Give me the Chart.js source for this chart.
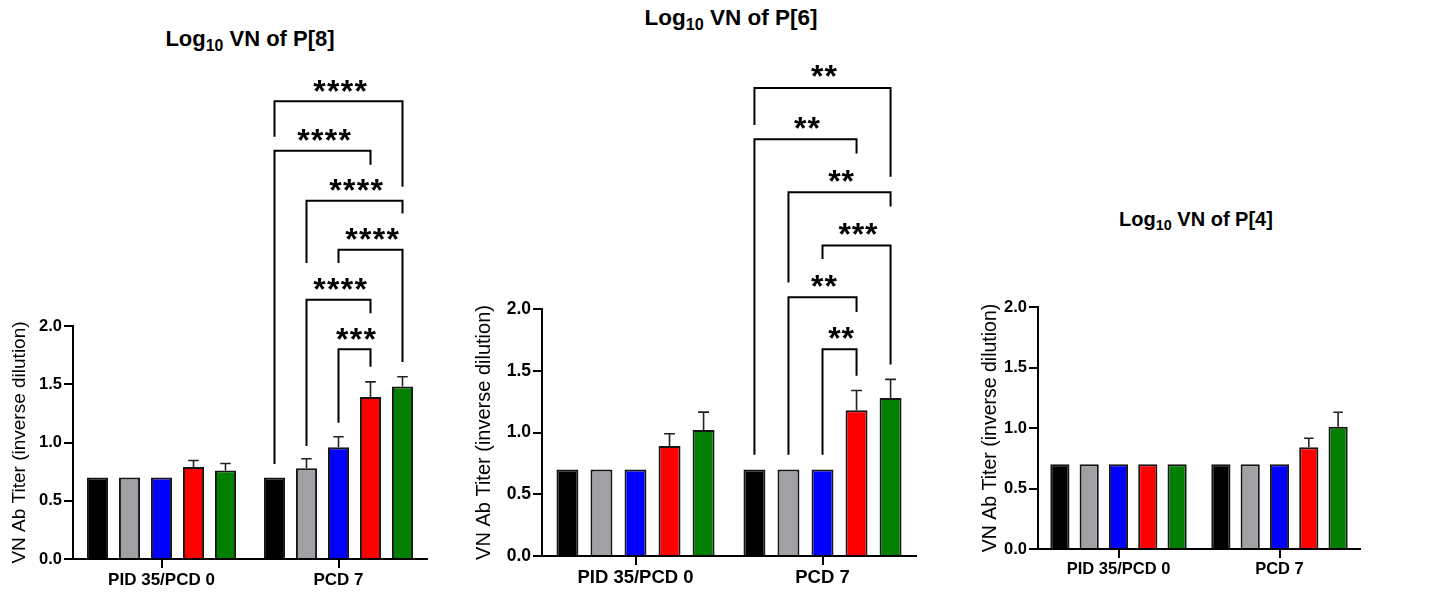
<!DOCTYPE html>
<html><head><meta charset="utf-8">
<script src="https://cdn.jsdelivr.net/npm/chart.js@4.4.0/dist/chart.umd.min.js"></script>
<style>
html,body{margin:0;padding:0;background:#fff;width:1454px;height:597px;overflow:hidden;position:relative;font-family:"Liberation Sans",Arial,sans-serif;}
canvas{position:absolute;top:0;}
.ttl{position:absolute;font-weight:bold;white-space:nowrap;color:#000;transform:translateX(-50%);line-height:1;}
.ttl sub{font-size:0.72em;vertical-align:baseline;position:relative;top:0.3em;line-height:0;}
</style></head><body>
<div class="ttl" style="left:250px;top:28px;font-size:22px;">Log<sub>10</sub> VN of P[8]</div>
<div class="ttl" style="left:731px;top:7px;font-size:22.5px;">Log<sub>10</sub> VN of P[6]</div>
<div class="ttl" style="left:1196px;top:209px;font-size:20px;">Log<sub>10</sub> VN of P[4]</div>
<canvas id="c1" width="445" height="597" style="left:0px;width:445px;height:597px"></canvas>
<canvas id="c2" width="475" height="597" style="left:460px;width:475px;height:597px"></canvas>
<canvas id="c3" width="484" height="597" style="left:970px;width:484px;height:597px"></canvas>
<script>
// ---------- data ----------
const categories = ['PID 35/PCD 0', 'PCD 7'];
const seriesNames = ['Group 1', 'Group 2', 'Group 3', 'Group 4', 'Group 5'];
const yTickValues = [0, 0.5, 1, 1.5, 2];
const yTickLabels = ['0.0', '0.5', '1.0', '1.5', '2.0'];
const yAxisTitle = 'VN Ab Titer (inverse dilution)';

// P[8]
const p8Black = [0.70, 0.70];
const p8Gray  = [0.70, 0.78];
const p8Blue  = [0.70, 0.96];
const p8Red   = [0.79, 1.39];
const p8Green = [0.76, 1.48];
const p8BlackErr = [0, 0];
const p8GrayErr  = [0, 0.08];
const p8BlueErr  = [0, 0.09];
const p8RedErr   = [0.055, 0.13];
const p8GreenErr = [0.06, 0.085];
const p8BracketPairs  = [[0, 4], [0, 3], [1, 4], [2, 4], [1, 3], [2, 3]];
const p8BracketLabels = ['****', '****', '****', '****', '****', '***'];
const p8BracketLevels = [3.93, 3.505, 3.075, 2.655, 2.225, 1.80];
const p8BracketLeftEnds  = [3.625, 0.815, 2.54, 2.54, 0.97, 1.17];
const p8BracketRightEnds = [3.195, 3.385, 2.965, 1.69, 2.11, 1.65];

// P[6]
const p6Black = [0.70, 0.70];
const p6Gray  = [0.70, 0.70];
const p6Blue  = [0.70, 0.70];
const p6Red   = [0.89, 1.18];
const p6Green = [1.02, 1.28];
const p6BlackErr = [0, 0];
const p6GrayErr  = [0, 0];
const p6BlueErr  = [0, 0];
const p6RedErr   = [0.10, 0.16];
const p6GreenErr = [0.145, 0.15];
const p6BracketPairs  = [[0, 4], [0, 3], [1, 4], [2, 4], [1, 3], [2, 3]];
const p6BracketLabels = ['**', '**', '**', '***', '**', '**'];
const p6BracketLevels = [3.79, 3.375, 2.945, 2.515, 2.095, 1.675];
const p6BracketLeftEnds  = [3.49, 0.82, 2.215, 2.405, 0.82, 0.82];
const p6BracketRightEnds = [3.07, 3.26, 2.83, 1.55, 1.975, 1.46];

// P[4]
const p4Black = [0.70, 0.70];
const p4Gray  = [0.70, 0.70];
const p4Blue  = [0.70, 0.70];
const p4Red   = [0.70, 0.84];
const p4Green = [0.70, 1.01];
const p4BlackErr = [0, 0];
const p4GrayErr  = [0, 0];
const p4BlueErr  = [0, 0];
const p4RedErr   = [0, 0.075];
const p4GreenErr = [0, 0.12];

// ---------- style ----------
const barColors = ['#000000', '#a1a1a5', '#0000ff', '#ff0000', '#007f00'];
const FONT = '"Liberation Sans", Arial, sans-serif';

function buildChart(id, geo, values, errors, br) {
  const datasets = values.map((v, i) => ({
    label: seriesNames[i], data: v, backgroundColor: barColors[i],
    borderColor: '#151515', borderWidth: 2, borderSkipped: 'start',
    barPercentage: geo.bp, categoryPercentage: geo.cp
  }));
  const brGroup = categories.indexOf('PCD 7');
  const annot = {
    id: 'annot_' + id,
    afterDraw(chart) {
      const ctx = chart.ctx, y = chart.scales.y;
      ctx.save();
      // error bars (upward, SEM)
      chart.data.datasets.forEach((ds, i) => {
        chart.getDatasetMeta(i).data.forEach((bar, j) => {
          const e = errors[i][j];
          if (!e) return;
          const top = y.getPixelForValue(values[i][j] + e);
          const cw = bar.width * 0.5;
          ctx.strokeStyle = '#222'; ctx.lineWidth = 1.6;
          ctx.beginPath();
          ctx.moveTo(bar.x, bar.y); ctx.lineTo(bar.x, top);
          ctx.moveTo(bar.x - cw / 2, top); ctx.lineTo(bar.x + cw / 2, top);
          ctx.stroke();
        });
      });
      // significance brackets
      if (br) {
        ctx.font = 'bold 32px ' + FONT;
        const m = ctx.measureText('*');
        const asc = m.actualBoundingBoxAscent, desc = m.actualBoundingBoxDescent;
        br.pairs.forEach((p, k) => {
          const xl = chart.getDatasetMeta(p[0]).data[brGroup].x;
          const xr = chart.getDatasetMeta(p[1]).data[brGroup].x;
          const yl = y.getPixelForValue(br.levels[k]);
          const y1 = y.getPixelForValue(br.leftEnds[k]);
          const y2 = y.getPixelForValue(br.rightEnds[k]);
          ctx.strokeStyle = '#000'; ctx.lineWidth = 2; ctx.lineJoin = 'miter'; ctx.lineCap = 'butt';
          ctx.beginPath();
          ctx.moveTo(xl, y1); ctx.lineTo(xl, yl); ctx.lineTo(xr, yl); ctx.lineTo(xr, y2);
          ctx.stroke();
          const lab = br.labels[k], n = lab.length;
          const cx = (xl + xr) / 2 + 1.5, cy = yl - geo.labelGap;
          const base = cy + (asc - desc) / 2;
          ctx.fillStyle = '#000'; ctx.textAlign = 'center'; ctx.textBaseline = 'alphabetic';
          for (let s = 0; s < n; s++) {
            ctx.fillText(lab[s], cx - (n - 1) * geo.starStep / 2 + s * geo.starStep, base);
          }
        });
      }
      ctx.restore();
    }
  };
  return new Chart(document.getElementById(id), {
    type: 'bar',
    data: { labels: categories, datasets },
    plugins: [annot],
    options: {
      responsive: false, animation: false, devicePixelRatio: 1,
      layout: { padding: { top: geo.top, right: geo.padRight, bottom: 0, left: 0 } },
      plugins: { legend: { display: false }, tooltip: { enabled: false }, title: { display: false } },
      scales: {
        x: {
          grid: { display: true, drawOnChartArea: false, offset: false, tickLength: 9, color: '#000', lineWidth: 2 },
          border: { display: true, color: '#000', width: 2 },
          ticks: { color: '#000', font: { family: FONT, weight: 'bold', size: geo.catFont }, padding: 2, maxRotation: 0, autoSkip: false },
          afterFit(s) { s.height = geo.xH; }
        },
        y: {
          min: 0, max: 2,
          afterBuildTicks(s) { s.ticks = yTickValues.map(v => ({ value: v })); },
          ticks: { color: '#000', font: { family: FONT, weight: 'bold', size: geo.tickFont }, padding: 2,
                   callback: (v) => yTickLabels[yTickValues.indexOf(v)] },
          grid: { drawOnChartArea: false, tickLength: 9, color: '#000', lineWidth: 2 },
          border: { display: true, color: '#000', width: 2 },
          title: { display: true, text: yAxisTitle, color: '#000',
                   font: { family: FONT, size: geo.titleFont, weight: 'normal' }, padding: { top: geo.titlePad, bottom: 0 } },
          afterFit(s) { s.width = geo.yW; }
        }
      }
    }
  });
}

buildChart('c1',
  { top: 326, padRight: 18, xH: 38, yW: 73, bp: 0.66, cp: 0.904, catFont: 17, tickFont: 16.5, titleFont: 19, titlePad: 8.6, labelGap: 15.3, starStep: 13.75 },
  [p8Black, p8Gray, p8Blue, p8Red, p8Green],
  [p8BlackErr, p8GrayErr, p8BlueErr, p8RedErr, p8GreenErr],
  { pairs: p8BracketPairs, labels: p8BracketLabels, levels: p8BracketLevels, leftEnds: p8BracketLeftEnds, rightEnds: p8BracketRightEnds });

buildChart('c2',
  { top: 309, padRight: 19, xH: 41, yW: 82, bp: 0.645, cp: 0.91, catFont: 18.5, tickFont: 17.5, titleFont: 20, titlePad: 12, labelGap: 16.5, starStep: 13.3 },
  [p6Black, p6Gray, p6Blue, p6Red, p6Green],
  [p6BlackErr, p6GrayErr, p6BlueErr, p6RedErr, p6GreenErr],
  { pairs: p6BracketPairs, labels: p6BracketLabels, levels: p6BracketLevels, leftEnds: p6BracketLeftEnds, rightEnds: p6BracketRightEnds });

buildChart('c3',
  { top: 307, padRight: 94, xH: 48, yW: 68, bp: 0.655, cp: 0.91, catFont: 16.5, tickFont: 16.5, titleFont: 19.5, titlePad: 9.2 },
  [p4Black, p4Gray, p4Blue, p4Red, p4Green],
  [p4BlackErr, p4GrayErr, p4BlueErr, p4RedErr, p4GreenErr],
  null);
</script>
</body></html>
